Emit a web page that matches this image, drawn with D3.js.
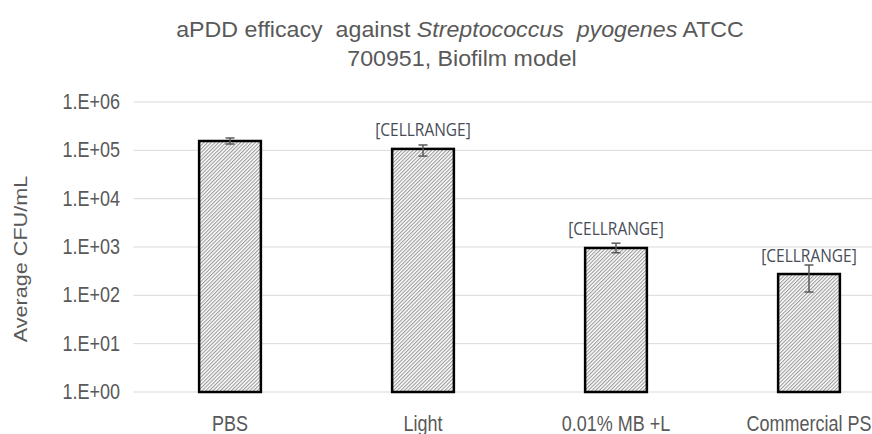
<!DOCTYPE html>
<html lang="en">
<head>
<meta charset="utf-8">
<title>aPDD efficacy, biofilm model</title>
<script src="https://d3js.org/d3.v7.min.js"></script>
<style>
  body { margin: 0; background: #fff; }
  .title { font-family: "Liberation Sans", Arial, sans-serif; font-size: 20px; fill: #595959; white-space: pre; }
  .axis text { font-family: "Liberation Sans", Arial, sans-serif; font-size: 18px; fill: #595959; }
  .axis-title { font-family: "Liberation Sans", Arial, sans-serif; font-size: 18px; fill: #595959; }
  .bar-label { font-family: "Open Sans", "DejaVu Sans", sans-serif; font-size: 15.5px; fill: #474d57; }
</style>
</head>
<body>
<div id="chart"></div>
<script>
// data
const categories = ["PBS", "Light", "0.01% MB +L", "Commercial PS"];
const means = [156000, 107000, 955, 276];
const errLow = [135000, 76000, 760, 117];
const errHigh = [180000, 129000, 1200, 424];
const labels = ["", "[CELLRANGE]", "[CELLRANGE]", "[CELLRANGE]"];
const tickValues = [1, 10, 100, 1000, 10000, 100000, 1000000];

const W = 872, H = 434;
const plotLeft = 133.5, plotTop = 102, plotBottom = 392;
const sy = 1.2; // text in the source image is stretched vertically

const svg = d3.select("#chart").append("svg")
  .attr("width", W).attr("height", H);

// hatch pattern
const pat = svg.append("defs").append("pattern")
  .attr("id", "hatch")
  .attr("patternUnits", "userSpaceOnUse")
  .attr("width", 2.6).attr("height", 2.6)
  .attr("patternTransform", "rotate(45)");
pat.append("rect").attr("width", 2.6).attr("height", 2.6).attr("fill", "#ffffff");
pat.append("rect").attr("width", 1.1).attr("height", 2.6).attr("fill", "#9a9a9a");

const x = d3.scaleBand().domain(categories).range([plotLeft, plotLeft + 4 * 193])
  .paddingInner(0.68).paddingOuter(0.34);
const y = d3.scaleLog().domain([1, 1e6]).range([plotBottom, plotTop]);

// gridlines
svg.append("g").selectAll("line").data(tickValues).join("line")
  .attr("x1", plotLeft).attr("x2", W)
  .attr("y1", d => y(d)).attr("y2", d => y(d))
  .attr("stroke", "#d9d9d9").attr("stroke-width", 1);

// y axis labels
const fmt = d => "1.E+" + String(Math.round(Math.log10(d))).padStart(2, "0");
const yAxis = svg.append("g").attr("class", "axis")
  .attr("transform", `translate(${plotLeft - 13.5},0)`)
  .call(d3.axisLeft(y).tickValues(tickValues).tickFormat(fmt).tickSize(0).tickPadding(0));
yAxis.select(".domain").remove();
yAxis.selectAll("text").attr("dy", "0.3em").attr("transform", `scale(1,${sy})`);

// x axis labels
const xAxis = svg.append("g").attr("class", "axis")
  .attr("transform", `translate(0,${plotBottom})`)
  .call(d3.axisBottom(x).tickSize(0));
xAxis.select(".domain").remove();
xAxis.selectAll("text").attr("y", 32.5).attr("dy", 0).attr("transform", `scale(1,${sy})`);

// bars
svg.append("g").selectAll("rect").data(categories).join("rect")
  .attr("x", d => x(d))
  .attr("y", (d, i) => y(means[i]))
  .attr("width", x.bandwidth())
  .attr("height", (d, i) => y(1) - y(means[i]))
  .attr("fill", "url(#hatch)")
  .attr("stroke", "#000").attr("stroke-width", 2.5);

// error bars
const eb = svg.append("g").attr("stroke", "#595959").attr("stroke-width", 1.5);
categories.forEach((c, i) => {
  const cx = x(c) + x.bandwidth() / 2;
  eb.append("line").attr("x1", cx).attr("x2", cx).attr("y1", y(errLow[i])).attr("y2", y(errHigh[i]));
  [errLow[i], errHigh[i]].forEach(v => {
    eb.append("line").attr("x1", cx - 4.5).attr("x2", cx + 4.5).attr("y1", y(v)).attr("y2", y(v));
  });
});

// data labels
svg.append("g").selectAll("text").data(categories).join("text")
  .attr("class", "bar-label")
  .attr("transform", (d, i) => `translate(${x(d) + x.bandwidth() / 2},${y(means[i]) - 12.5}) scale(1,${sy})`)
  .attr("text-anchor", "middle")
  .text((d, i) => labels[i]);

// y axis title
svg.append("text").attr("class", "axis-title")
  .attr("transform", `translate(27,259) rotate(-90) scale(${sy},1)`)
  .attr("text-anchor", "middle")
  .text("Average CFU/mL");

// title
const t1 = svg.append("text").attr("class", "title")
  .attr("transform", "translate(460,37) scale(1.16,1.08)")
  .attr("text-anchor", "middle");
t1.append("tspan").text("aPDD efficacy  against ");
t1.append("tspan").attr("font-style", "italic").text("Streptococcus  pyogenes");
t1.append("tspan").text(" ATCC");
svg.append("text").attr("class", "title")
  .attr("transform", "translate(462,66) scale(1.16,1.08)")
  .attr("text-anchor", "middle")
  .text("700951, Biofilm model");
</script>
</body>
</html>
